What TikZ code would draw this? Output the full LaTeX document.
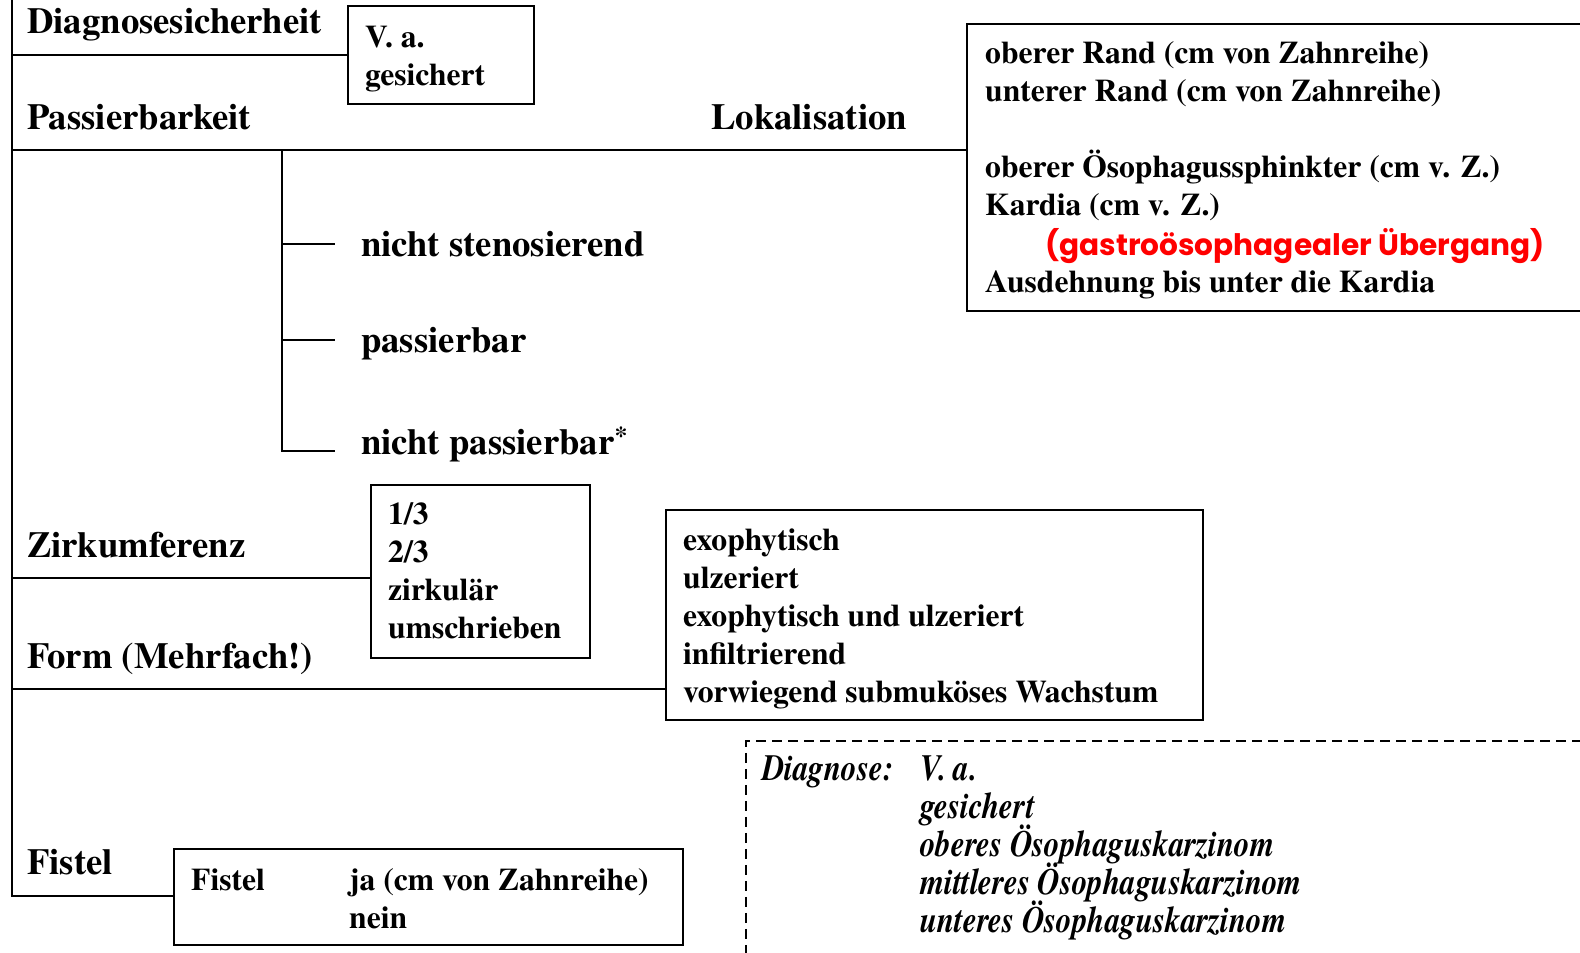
\documentclass[tikz,border=0pt]{standalone}
\usepackage{fontspec}
\setmainfont{TeX Gyre Termes}
\newfontfamily\gothic{Poppins}
\newfontfamily\condit{TeX Gyre Termes}[FakeStretch=0.84]
\definecolor{redtxt}{RGB}{255,0,0}
\tikzset{
 lab/.style={anchor=base west, inner sep=0pt, font=\fontsize{36.7}{44}\selectfont\bfseries},
 itm/.style={anchor=base west, inner sep=0pt, font=\fontsize{31.6}{38}\selectfont\bfseries},
 itl/.style={anchor=base west, inner sep=0pt, font=\condit\fontsize{37}{38}\selectfont\bfseries\itshape},
 redl/.style={anchor=base west, inner sep=0pt, text=redtxt, font=\gothic\fontsize{29.6}{38}\selectfont\bfseries},
 box/.style={draw, line width=2pt, inner sep=0pt, anchor=north west},
 dbox/.style={draw, line width=1.6pt, dash pattern=on 10pt off 6pt, inner sep=0pt, anchor=north west},
 ln/.style={line width=2pt},
}
\begin{document}
\begin{tikzpicture}[x=1pt,y=-1pt]
\useasboundingbox (0,0) rectangle (1580,953);
\clip (0,0) rectangle (1580,953);
% boxes
\node[box, minimum width=186pt, minimum height=98pt] (bva) at (347,5) {};
\node[box, minimum width=700pt, minimum height=287pt] (blok) at (966,23) {};
\node[box, minimum width=219pt, minimum height=173pt] (bzirk) at (370,484) {};
\node[box, minimum width=537pt, minimum height=210pt] (bform) at (665,509) {};
\node[box, minimum width=509pt, minimum height=96pt] (bfist) at (173,848) {};
\node[dbox, minimum width=900pt, minimum height=300pt] (bdiag) at (745,740) {};
% main spine
\coordinate (top) at (12,0);
\coordinate (bot) at (12,896);
\draw[ln] (top) -- (bot) -- (bfist.west |- bot);
\coordinate (j1) at (12,55);
\coordinate (j2) at (12,150);
\coordinate (j3) at (12,578);
\coordinate (j4) at (12,689);
\draw[ln] (j1) -- (bva.west |- j1);
\draw[ln] (j2) -- (blok.west |- j2);
\draw[ln] (j3) -- (bzirk.west |- j3);
\draw[ln] (j4) -- (bform.west |- j4);
% Passierbarkeit sub-branch
\coordinate (s0) at (282,150);
\coordinate (s1) at (282,244);
\coordinate (s2) at (282,340);
\coordinate (s3) at (282,451);
\coordinate (e1) at (335,244);
\coordinate (e2) at (335,340);
\coordinate (e3) at (335,451);
\draw[ln] (s0) -- (s3) -- (e3);
\draw[ln] (s1) -- (e1);
\draw[ln] (s2) -- (e2);
% labels
\node[lab] (lDiag) at (27,33) {Diagnosesicherheit};
\node[lab] (lPass) at (27,129) {Passierbarkeit};
\node[lab] (lLok) at (711,129) {Lokalisation};
\node[lab] (lZirk) at (27,557) {Zirkumferenz};
\node[lab] (lForm) at (27,668) {Form (Mehrfach!)};
\node[lab] (lFist) at (27,874) {Fistel};
\node[lab] (p1) at (361,256) {nicht stenosierend};
\node[lab] (p2) at (361,352) {passierbar};
\node[lab] (p3) at (361,454) {nicht passierbar\textsuperscript{*}};
% box texts
\node[itm] (va1) at (365,47) {V. a.};
\node[itm] (va2) at (365,85) {gesichert};
\node[itm] (lo1) at (985,63) {oberer Rand (cm von Zahnreihe)};
\node[itm] (lo2) at (985,101) {unterer Rand (cm von Zahnreihe)};
\node[itm] (lo3) at (985,177) {oberer Ösophagussphinkter (cm v. Z.)};
\node[itm] (lo4) at (985,215) {Kardia (cm v. Z.)};
\node[redl] (lo5) at (1045,255) {(gastroösophagealer Übergang)};
\node[itm] (lo6) at (985,292) {Ausdehnung bis unter die Kardia};
\node[itm] (z1) at (388,524) {1/3};
\node[itm] (z2) at (388,562) {2/3};
\node[itm] (z3) at (388,600) {zirkulär};
\node[itm] (z4) at (388,638) {umschrieben};
\node[itm] (f1) at (683,550) {exophytisch};
\node[itm] (f2) at (683,588) {ulzeriert};
\node[itm] (f3) at (683,626) {exophytisch und ulzeriert};
\node[itm] (f4) at (683,664) {infiltrierend};
\node[itm] (f5) at (683,702) {vorwiegend submuköses Wachstum};
\node[itm] (fi1) at (191,890) {Fistel};
\node[itm] (fi2) at (349,890) {ja (cm von Zahnreihe)};
\node[itm] (fi3) at (349,928) {nein};
\node[itl] (d0) at (762,780) {Diagnose:};
\node[itl] (d1) at (920,780) {V. a.};
\node[itl] (d2) at (920,818) {gesichert};
\node[itl] (d3) at (920,856) {oberes Ösophaguskarzinom};
\node[itl] (d4) at (920,894) {mittleres Ösophaguskarzinom};
\node[itl] (d5) at (920,932) {unteres Ösophaguskarzinom};
\end{tikzpicture}
\end{document}
